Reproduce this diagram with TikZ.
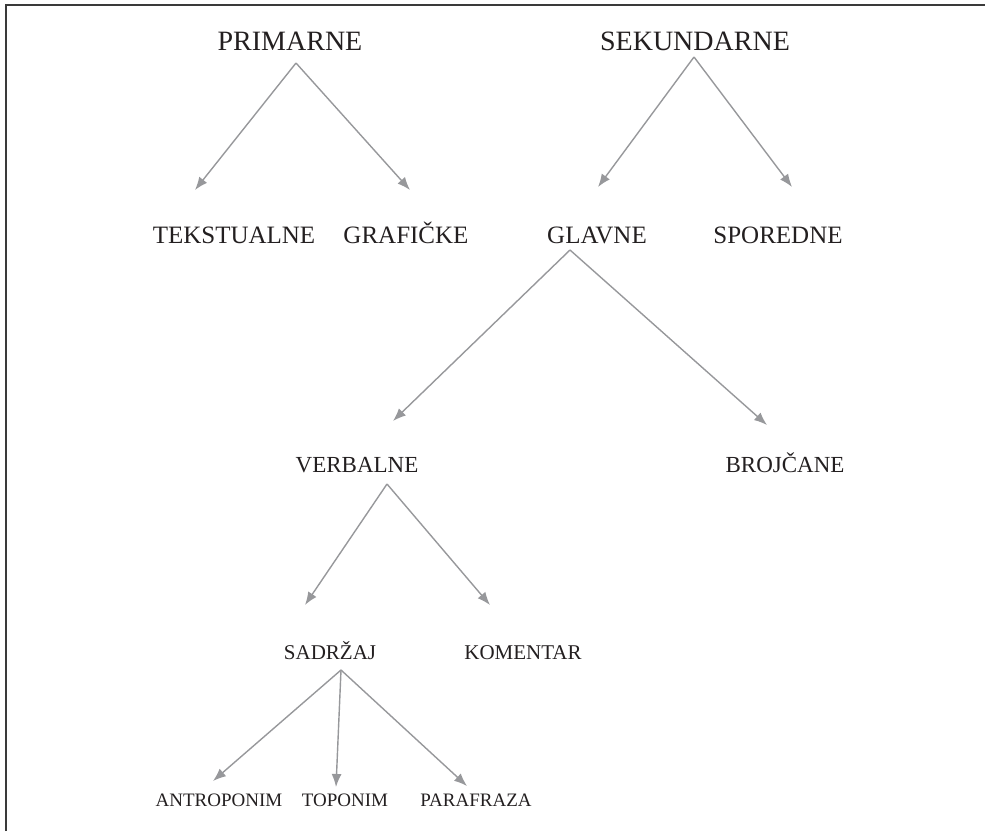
\documentclass[tikz,border=0pt]{standalone}
\usepackage{fontspec}
\setmainfont{Liberation Serif}
\usetikzlibrary{arrows.meta}
\definecolor{txt}{HTML}{231F20}
\definecolor{arr}{HTML}{97989B}
\definecolor{frm}{HTML}{3A3A3A}
\tikzset{
  lbl/.style={anchor=base, inner sep=0pt, text=txt},
  conn/.style={draw=arr, line width=1.4pt, -{Latex[length=13pt,width=10pt]}},
}
\begin{document}
\begin{tikzpicture}[x=1pt,y=-1pt]
\useasboundingbox (0,0) rectangle (985,831);
\draw[frm, line width=2pt] (6,831) -- (6,5) -- (985,5);
% labels
\node[lbl, font=\fontsize{28}{30}\selectfont] (primarne) at (290,50) {PRIMARNE};
\node[lbl, font=\fontsize{28}{30}\selectfont] (sekundarne) at (695,50) {SEKUNDARNE};
\node[lbl, font=\fontsize{25}{27}\selectfont] (tekstualne) at (234,243) {TEKSTUALNE};
\node[lbl, font=\fontsize{25}{27}\selectfont] (graficke) at (406,243) {GRAFIČKE};
\node[lbl, font=\fontsize{25}{27}\selectfont] (glavne) at (597,243) {GLAVNE};
\node[lbl, font=\fontsize{25}{27}\selectfont] (sporedne) at (778,243) {SPOREDNE};
\node[lbl, font=\fontsize{23}{25}\selectfont] (verbalne) at (357,472) {VERBALNE};
\node[lbl, font=\fontsize{23}{25}\selectfont] (brojcane) at (785,472) {BROJČANE};
\node[lbl, font=\fontsize{21}{23}\selectfont] (sadrzaj) at (330,659) {SADRŽAJ};
\node[lbl, font=\fontsize{21}{23}\selectfont] (komentar) at (523,659) {KOMENTAR};
\node[lbl, font=\fontsize{19}{21}\selectfont] (antroponim) at (219,806) {ANTROPONIM};
\node[lbl, font=\fontsize{19}{21}\selectfont] (toponim) at (345,806) {TOPONIM};
\node[lbl, font=\fontsize{19}{21}\selectfont] (parafraza) at (476,806) {PARAFRAZA};
% connector end points
\coordinate (primarne-out) at (296,63);
\coordinate (tekstualne-in) at (195,190);
\coordinate (graficke-in) at (410,190);
\coordinate (sekundarne-out) at (694,57);
\coordinate (glavne-in) at (598,187);
\coordinate (sporedne-in) at (792,187);
\coordinate (glavne-out) at (570,250);
\coordinate (verbalne-in) at (393,421);
\coordinate (brojcane-in) at (767,425);
\coordinate (verbalne-out) at (387,484);
\coordinate (sadrzaj-in) at (305,605);
\coordinate (komentar-in) at (490,605);
\coordinate (sadrzaj-out) at (341,670);
\coordinate (antroponim-in) at (213,781);
\coordinate (toponim-in) at (336,787);
\coordinate (parafraza-in) at (467,786);
% connectors
\draw[conn] (primarne-out) -- (tekstualne-in);
\draw[conn] (primarne-out) -- (graficke-in);
\draw[conn] (sekundarne-out) -- (glavne-in);
\draw[conn] (sekundarne-out) -- (sporedne-in);
\draw[conn] (glavne-out) -- (verbalne-in);
\draw[conn] (glavne-out) -- (brojcane-in);
\draw[conn] (verbalne-out) -- (sadrzaj-in);
\draw[conn] (verbalne-out) -- (komentar-in);
\draw[conn] (sadrzaj-out) -- (antroponim-in);
\draw[conn] (sadrzaj-out) -- (toponim-in);
\draw[conn] (sadrzaj-out) -- (parafraza-in);
\end{tikzpicture}
\end{document}
